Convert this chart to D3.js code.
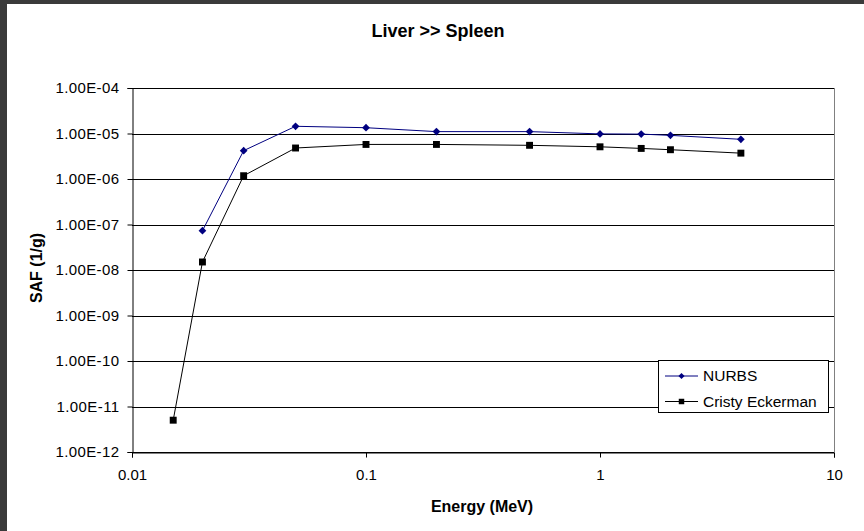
<!DOCTYPE html>
<html>
<head>
<meta charset="utf-8">
<script src="https://cdn.jsdelivr.net/npm/d3@7"></script>
<style>
  body { margin: 0; background: #fff; }
  text { font-family: "Liberation Sans", Arial, sans-serif; }
</style>
</head>
<body>
<div id="chart"></div>
<script>
// data
const energy = [0.015, 0.02, 0.03, 0.05, 0.1, 0.2, 0.5, 1, 1.5, 2, 4];
const nurbs  = [null, 7.3e-8, 4.2e-6, 1.44e-5, 1.34e-5, 1.1e-5, 1.1e-5, 9.8e-6, 9.7e-6, 9.1e-6, 7.45e-6];
const cristy = [5.0e-12, 1.5e-8, 1.18e-6, 4.8e-6, 5.75e-6, 5.75e-6, 5.5e-6, 5.1e-6, 4.7e-6, 4.4e-6, 3.7e-6];
const seriesNames = ["NURBS", "Cristy Eckerman"];

const xTicks = [0.01, 0.1, 1, 10];
const xTickLabels = ["0.01", "0.1", "1", "10"];
const yTicks = [1e-12, 1e-11, 1e-10, 1e-9, 1e-8, 1e-7, 1e-6, 1e-5, 1e-4];
const yTickLabels = ["1.00E-12", "1.00E-11", "1.00E-10", "1.00E-09", "1.00E-08",
                     "1.00E-07", "1.00E-06", "1.00E-05", "1.00E-04"];

const width = 864, height = 531;
const plot = {left: 132, right: 834, top: 88, bottom: 452};

let svg = d3.select("#chart")
            .append("svg")
            .attr("width", width)
            .attr("height", height);

// dark frame on the left and top
svg.append("rect").attr("x", 0).attr("y", 0).attr("width", width).attr("height", 4).attr("fill", "#3a3a3a");
svg.append("rect").attr("x", 0).attr("y", 0).attr("width", 7).attr("height", height).attr("fill", "#3a3a3a");

let x = d3.scaleLog().domain([0.01, 10]).range([plot.left, plot.right]);
let y = d3.scaleLog().domain([1e-12, 1e-4]).range([plot.bottom, plot.top]);

// gridlines
svg.append("g")
   .selectAll("line")
   .data(yTicks)
   .enter()
   .append("line")
   .attr("x1", plot.left).attr("x2", plot.right)
   .attr("y1", d => Math.round(y(d)) + 0.5).attr("y2", d => Math.round(y(d)) + 0.5)
   .attr("stroke", "#000")
   .attr("stroke-width", 1);

// right border of plot area
svg.append("line")
   .attr("x1", plot.right + 0.5).attr("x2", plot.right + 0.5)
   .attr("y1", plot.top).attr("y2", plot.bottom)
   .attr("stroke", "#808080");

// y axis
let yAxis = svg.append("g")
   .attr("transform", `translate(${plot.left + 0.5},0)`)
   .call(d3.axisLeft(y)
           .tickValues(yTicks)
           .tickSize(5)
           .tickPadding(8)
           .tickFormat((d, i) => yTickLabels[i]));

// x axis
let xAxis = svg.append("g")
   .attr("transform", `translate(0,${plot.bottom + 0.5})`)
   .call(d3.axisBottom(x)
           .tickValues(xTicks)
           .tickSize(5)
           .tickPadding(12)
           .tickFormat((d, i) => xTickLabels[i]));

[yAxis, xAxis].forEach(function(a) {
  a.select(".domain").attr("stroke", "#000");
  a.selectAll(".tick line").attr("stroke", "#000");
  a.selectAll("text")
   .style("font-family", "Liberation Sans, Arial, sans-serif")
   .style("font-size", "15px")
   .attr("fill", "#000");
});
yAxis.selectAll("text").style("letter-spacing", "0.4px");

// series lines and markers
let nurbsData = energy.map((e, i) => [e, nurbs[i]]).filter(d => d[1] != null);
let cristyData = energy.map((e, i) => [e, cristy[i]]);

let line = d3.line().x(d => x(d[0])).y(d => y(d[1]));

svg.append("path")
   .datum(cristyData)
   .attr("fill", "none")
   .attr("stroke", "#000")
   .attr("stroke-width", 1)
   .attr("d", line);

svg.append("path")
   .datum(nurbsData)
   .attr("fill", "none")
   .attr("stroke", "#000080")
   .attr("stroke-width", 1)
   .attr("d", line);

let diamond = d3.symbol().type(d3.symbolDiamond2).size(38);
let square = d3.symbol().type(d3.symbolSquare).size(48);

svg.append("g")
   .selectAll("path")
   .data(cristyData)
   .enter()
   .append("path")
   .attr("transform", d => `translate(${x(d[0])},${y(d[1])})`)
   .attr("d", square)
   .attr("fill", "#000");

svg.append("g")
   .selectAll("path")
   .data(nurbsData)
   .enter()
   .append("path")
   .attr("transform", d => `translate(${x(d[0])},${y(d[1])})`)
   .attr("d", diamond)
   .attr("fill", "#000080");

// legend
let legend = svg.append("g");
legend.append("rect")
      .attr("x", 658.5).attr("y", 360.5)
      .attr("width", 170).attr("height", 52)
      .attr("fill", "#fff")
      .attr("stroke", "#000");
let legendColors = ["#000080", "#000"];
seriesNames.forEach(function(name, i) {
  let ly = 376 + i * 25.5;
  legend.append("line")
        .attr("x1", 665).attr("x2", 698)
        .attr("y1", ly).attr("y2", ly)
        .attr("stroke", legendColors[i]);
  legend.append("path")
        .attr("transform", `translate(681.5,${ly})`)
        .attr("d", i == 0 ? d3.symbol().type(d3.symbolDiamond2).size(24) : d3.symbol().type(d3.symbolSquare).size(30))
        .attr("fill", legendColors[i]);
  legend.append("text")
        .attr("x", 703).attr("y", ly)
        .attr("dy", "0.35em")
        .style("font-size", "15.5px")
        .text(name);
});

// title
svg.append("text")
   .attr("x", 438).attr("y", 37)
   .style("text-anchor", "middle")
   .style("font-weight", "bold")
   .style("font-size", "18px")
   .text("Liver >> Spleen");

// axis labels
svg.append("text")
   .attr("x", 482).attr("y", 512)
   .style("text-anchor", "middle")
   .style("font-weight", "bold")
   .style("font-size", "16px")
   .text("Energy (MeV)");

svg.append("text")
   .attr("transform", "translate(42,268) rotate(-90)")
   .style("text-anchor", "middle")
   .style("font-weight", "bold")
   .style("font-size", "16px")
   .text("SAF (1/g)");
</script>
</body>
</html>
